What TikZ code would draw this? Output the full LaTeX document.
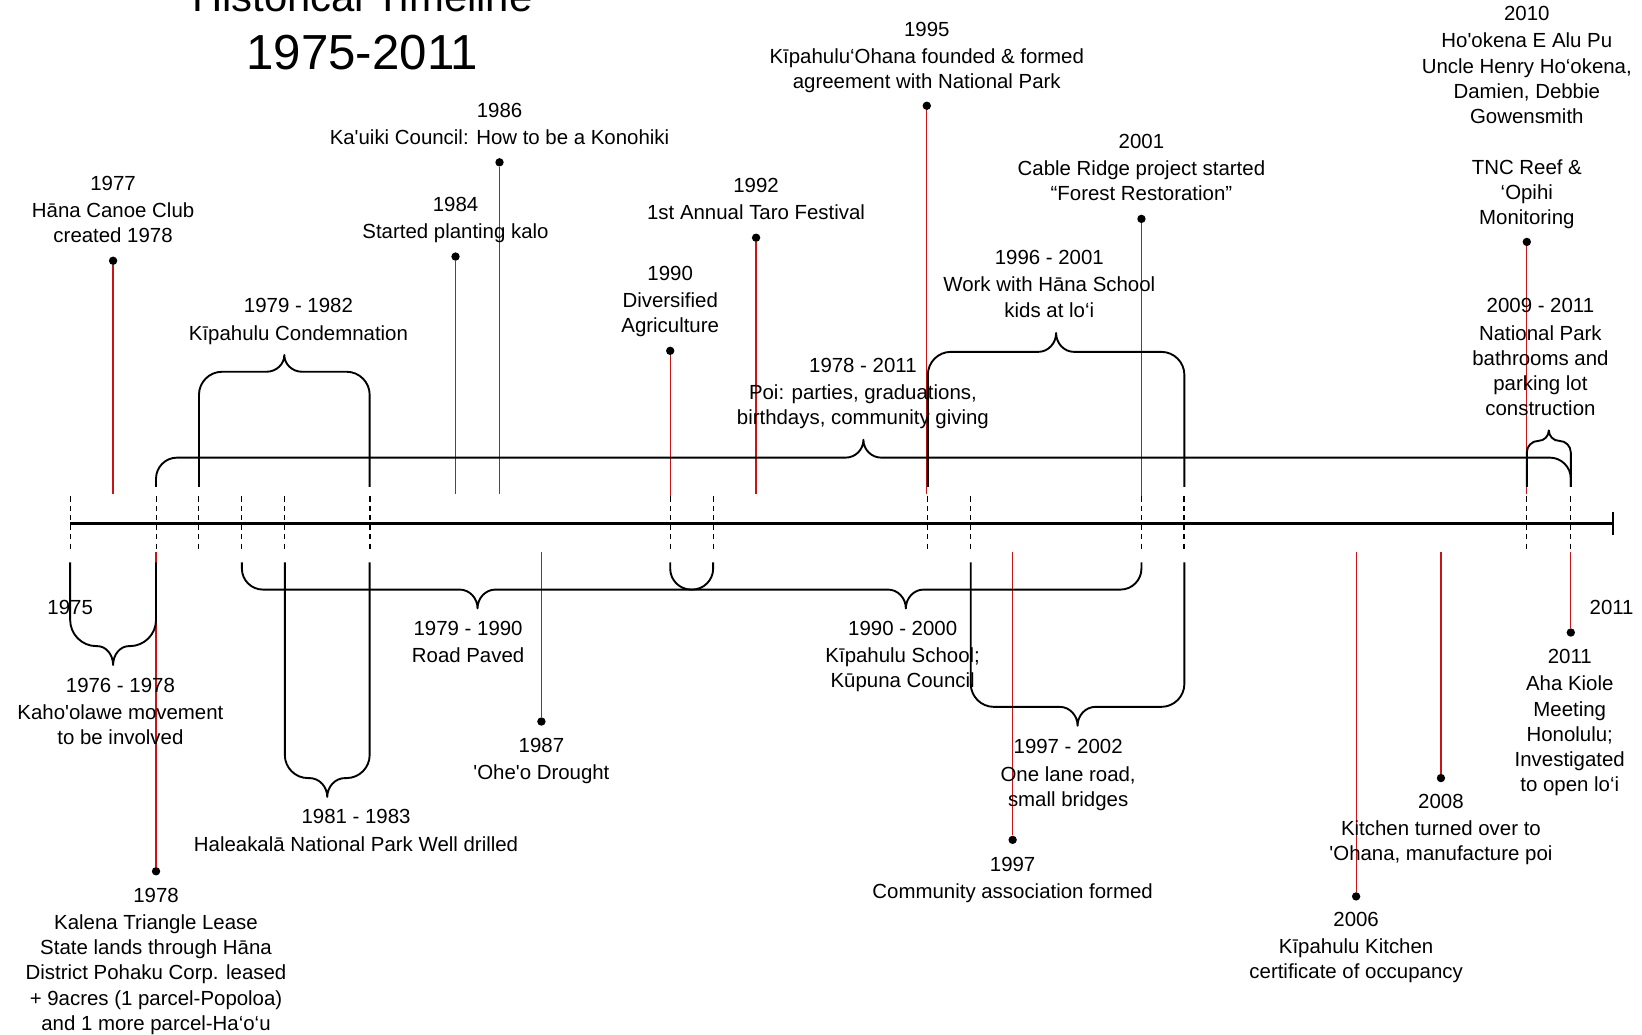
\documentclass[tikz,border=0pt]{standalone}
\usepackage{fontspec}
\newfontfamily\tlfont{Liberation Sans}
\definecolor{tlred}{RGB}{200,20,20}
\newcommand{\tlUp}[7]{%
 \pgfmathsetmacro\xm{(#1+#2)/2}%
 \draw[bracestyle] (#1,#4) -- (#1,{#3+#6}) .. controls (#1,{#3+0.45*#6}) and ({#1+0.45*#6},#3) .. ({#1+#6},#3)
   -- ({\xm-#7},#3) .. controls ({\xm-0.45*#7},#3) and (\xm,{#3-0.45*#5}) .. (\xm,{#3-#5})
   .. controls (\xm,{#3-0.45*#5}) and ({\xm+0.45*#7},#3) .. ({\xm+#7},#3)
   -- ({#2-#6},#3) .. controls ({#2-0.45*#6},#3) and (#2,{#3+0.45*#6}) .. (#2,{#3+#6}) -- (#2,#4);}
\newcommand{\tlDown}[7]{%
 \pgfmathsetmacro\xm{(#1+#2)/2}%
 \draw[bracestyle] (#1,#4) -- (#1,{#3-#6}) .. controls (#1,{#3-0.45*#6}) and ({#1+0.45*#6},#3) .. ({#1+#6},#3)
   -- ({\xm-#7},#3) .. controls ({\xm-0.45*#7},#3) and (\xm,{#3+0.45*#5}) .. (\xm,{#3+#5})
   .. controls (\xm,{#3+0.45*#5}) and ({\xm+0.45*#7},#3) .. ({\xm+#7},#3)
   -- ({#2-#6},#3) .. controls ({#2-0.45*#6},#3) and (#2,{#3-0.45*#6}) .. (#2,{#3-#6}) -- (#2,#4);}
\begin{document}
\begin{tikzpicture}[x=1pt,y=-1pt,
  lbl/.style={font=\tlfont\fontsize{19.5}{24}\selectfont, align=center, inner sep=0pt, anchor=north},
  ttl/.style={font=\tlfont\fontsize{47}{56}\selectfont, inner sep=0pt, anchor=base},
  evline/.style={draw=tlred, line width=1.2pt},
  dot/.style={circle, fill=black, inner sep=0pt, minimum size=8pt},
  bracestyle/.style={line width=1.8pt, line join=round},
  tickline/.style={line width=1pt, dash pattern=on 5pt off 4pt},
  axisline/.style={line width=3pt}
]
\useasboundingbox (0,0) rectangle (1568,988);
\clip (0,0) rectangle (1568,988);

% title
\node[ttl, font=\tlfont\fontsize{40}{48}\selectfont] (title1) at (346,11) {Historical Timeline};
\node[ttl] (title2) at (346,66) {1975-2011};

% event dots and red lines above the axis
\node[dot] (d1977) at (108,249) {};  \coordinate (e1977) at (108,472);
\node[dot] (d1984) at (435,245) {};  \coordinate (e1984) at (435,472);
\node[dot] (d1986) at (477,155) {};  \coordinate (e1986) at (477,472);
\node[dot] (d1990) at (640,335) {};  \coordinate (e1990) at (640,474);
\node[dot] (d1992) at (722,227) {};  \coordinate (e1992) at (722,472);
\node[dot] (d1995) at (885,101) {};  \coordinate (e1995) at (885,472);
\node[dot] (d2001) at (1090,209) {}; \coordinate (e2001) at (1090,474);
\node[dot] (d2010) at (1458,231) {}; \coordinate (e2010) at (1458,472);
% below the axis
\node[dot] (d1978) at (149,832) {};  \coordinate (e1978) at (149,527);
\node[dot] (d1987) at (517,689) {};  \coordinate (e1987) at (517,527);
\node[dot] (d1997) at (967,802) {};  \coordinate (e1997) at (967,527);
\node[dot] (d2006) at (1295,856) {}; \coordinate (e2006) at (1295,527);
\node[dot] (d2008) at (1376,743) {}; \coordinate (e2008) at (1376,527);
\node[dot] (d2011) at (1500,604) {}; \coordinate (e2011) at (1500,527);

\foreach \n in {1977,1984,1986,1990,1992,1995,2001,2010,1978,1987,1997,2006,2008,2011}
  \draw[evline] (d\n) -- (e\n);

% dashed ticks
\foreach \x in {67,149,190,231,272,640,681,886,927,1090,1458,1500}
  \draw[tickline] (\x,474) -- (\x,527);
\foreach \x in {353,1131}
  \draw[tickline, line width=1.8pt] (\x,474) -- (\x,527);

% axis
\coordinate (axL) at (67,500);
\coordinate (axR) at (1540,500);
\draw[axisline] (axL) -- (axR);
\draw[line width=2pt] (1540,489) -- (1540,511);

% braces above
\tlUp{190}{353}{355}{465}{16}{22}{17}
\tlUp{149}{1500}{437}{465}{17}{20}{17}
\tlUp{886}{1131}{336}{465}{18}{22}{17}
\tlUp{1458}{1500}{421}{465}{10}{11}{10}
% braces below
\tlDown{67}{149}{617}{537}{18}{25}{15}
\tlDown{231}{681}{563}{537}{18}{20}{17}
\tlDown{640}{1090}{563}{537}{18}{20}{17}
\tlDown{272}{353}{743}{537}{18}{22}{17}
\tlDown{927}{1131}{675}{537}{18}{22}{17}

% labels above
\node[lbl] (t1977) at (108,168) {1977\\[2pt]Hāna Canoe Club\\created 1978};
\node[lbl] (t1979) at (285,285) {1979 - 1982\\[2pt]Kīpahulu Condemnation};
\node[lbl] (t1984) at (435,188) {1984\\[2pt]Started planting kalo};
\node[lbl] (t1986) at (477,98) {1986\\[2pt]Ka'uiki Council: How to be a Konohiki};
\node[lbl] (t1990) at (640,254) {1990\\[2pt]Diversified\\Agriculture};
\node[lbl] (t1992) at (722,170) {1992\\[2pt]1st Annual Taro Festival};
\node[lbl] (t1995) at (885,21) {1995\\[2pt]Kīpahulu‘Ohana founded \& formed\\agreement with National Park};
\node[lbl] (t2001) at (1090,128) {2001\\[2pt]Cable Ridge project started\\“Forest Restoration”};
\node[lbl] (t1996) at (1002,239) {1996 - 2001\\[2pt]Work with Hāna School\\kids at lo‘i};
\node[lbl] (tpoi) at (824,342) {1978 - 2011\\[2pt]Poi: parties, graduations,\\birthdays, community giving};
\node[lbl] (t2010) at (1458,6) {2010\\[2pt]Ho'okena E Alu Pu\\Uncle Henry Ho‘okena,\\Damien, Debbie\\Gowensmith};
\node[lbl] (ttnc) at (1458,152) {TNC Reef \&\\‘Opihi\\Monitoring};
\node[lbl] (t2009) at (1471,285) {2009 - 2011\\[2pt]National Park\\bathrooms and\\parking lot\\construction};

% labels below
\node[lbl] (t1975) at (67,573) {1975};
\node[lbl] (tend) at (1539,573) {2011};
\node[lbl] (t1976) at (115,647) {1976 - 1978\\[2pt]Kaho'olawe movement\\to be involved};
\node[lbl] (t1978) at (149,848) {1978\\[2pt]Kalena Triangle Lease\\State lands through Hāna\\District Pohaku Corp. leased\\+ 9acres (1 parcel-Popoloa)\\and 1 more parcel-Ha‘o‘u};
\node[lbl] (troad) at (447,593) {1979 - 1990\\[2pt]Road Paved};
\node[lbl] (t1987) at (517,705) {1987\\[2pt]'Ohe'o Drought};
\node[lbl] (t1981) at (340,773) {1981 - 1983\\[2pt]Haleakalā National Park Well drilled};
\node[lbl] (tschool) at (862,593) {1990 - 2000\\[2pt]Kīpahulu School;\\Kūpuna Council};
\node[lbl] (tlane) at (1020,706) {1997 - 2002\\[2pt]One lane road,\\small bridges};
\node[lbl] (t1997) at (967,818) {1997\\[2pt]Community association formed};
\node[lbl] (t2006) at (1295,871) {2006\\[2pt]Kīpahulu Kitchen\\certificate of occupancy};
\node[lbl] (t2008) at (1376,758) {2008\\[2pt]Kitchen turned over to\\'Ohana, manufacture poi};
\node[lbl] (t2011) at (1499,620) {2011\\[2pt]Aha Kiole\\Meeting\\Honolulu;\\Investigated\\to open lo‘i};
\end{tikzpicture}
\end{document}
